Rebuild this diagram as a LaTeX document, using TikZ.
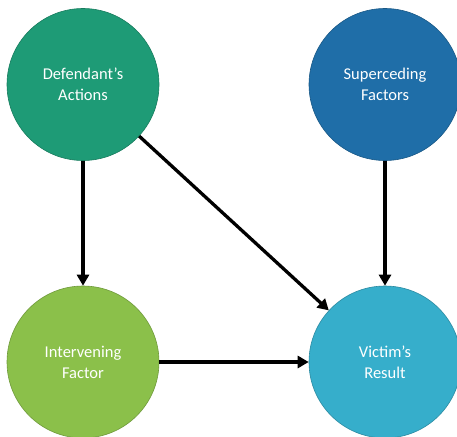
\documentclass[tikz,border=0pt]{standalone}
\usepackage{fontspec}
\setmainfont{Carlito}
\usetikzlibrary{arrows.meta}
\definecolor{cA}{HTML}{1E9B76}
\definecolor{cB}{HTML}{1F6EA8}
\definecolor{cC}{HTML}{8BC04A}
\definecolor{cD}{HTML}{36AECB}
\tikzset{
  bubble/.style={circle, minimum size=152pt, inner sep=0pt, draw=#1!80!black, line width=0.6pt, fill=#1,
    text=white, align=center, font=\fontsize{16.5}{21}\selectfont},
  conn/.style={line width=3.3pt, -{Triangle[length=11pt,width=12pt]}}
}
\begin{document}
\begin{tikzpicture}[x=1pt,y=-1pt]
\useasboundingbox (0,0) rectangle (457,436);
\begin{scope}
\clip (0,0) rectangle (457,436);
\node[bubble=cA] (def) at (83,84.5) {Defendant’s\\Actions};
\node[bubble=cB] (sup) at (385,84.5) {Superceding\\Factors};
\node[bubble=cC] (int) at (83,362) {Intervening\\Factor};
\node[bubble=cD] (vic) at (385,362) {Victim’s\\Result};
\end{scope}
\draw[conn] (def) -- (int);
\draw[conn] (def) -- (vic);
\draw[conn] (int) -- (vic);
\draw[conn] (sup) -- (vic);
\end{tikzpicture}
\end{document}
